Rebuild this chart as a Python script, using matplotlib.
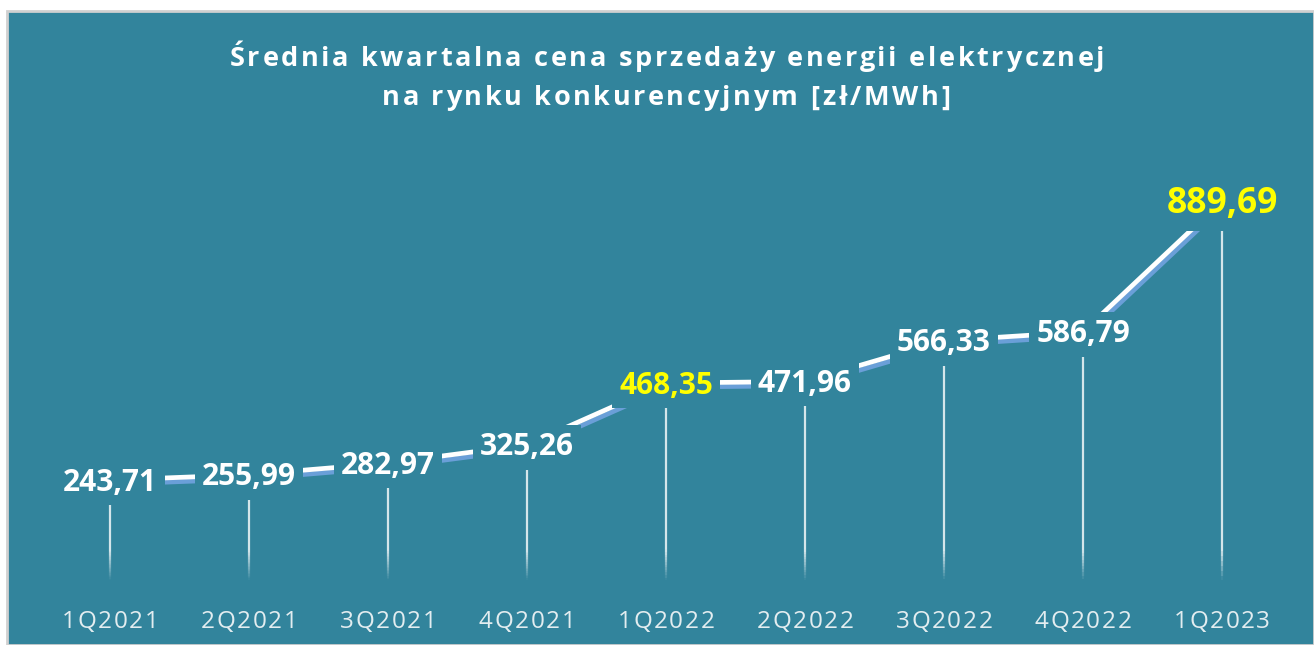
import numpy as np
import matplotlib.pyplot as plt
from matplotlib.patches import Rectangle
from matplotlib.collections import LineCollection
from matplotlib.font_manager import FontProperties
import matplotlib.patheffects as pe

quarters = ['1Q2021', '2Q2021', '3Q2021', '4Q2021', '1Q2022',
            '2Q2022', '3Q2022', '4Q2022', '1Q2023']
prices = [243.71, 255.99, 282.97, 325.26, 468.35, 471.96, 566.33, 586.79, 889.69]
highlight = ['1Q2022', '1Q2023']
title_lines = ['Średnia kwartalna cena sprzedaży energii elektrycznej',
               'na rynku konkurencyjnym [zł/MWh]']

teal = '#32849c'
shadow_blue = '#6a9fd8'
font = 'Open Sans'

fig = plt.figure(figsize=(13.14, 6.45), dpi=100)
fig.patch.set_facecolor('white')
fig.patches.append(Rectangle((7/1314, 0), 1 - 7/1314, 634/645, transform=fig.transFigure,
                             facecolor=teal, edgecolor='#d0d0d0', linewidth=2, zorder=-10))
renderer = fig.canvas.get_renderer()


def spaced_text(xc, y_px, s, size, weight, color, spacing):
    # draw text char by char with extra tracking, centred at xc (pixels)
    prop = FontProperties(family=font, size=size, weight=weight)
    def w(t):
        return renderer.get_text_width_height_descent(t, prop, ismath=False)[0] if t else 0
    total = w(s) + spacing * (len(s) - 1)
    x0 = xc - total / 2
    for i, ch in enumerate(s):
        if ch == ' ':
            continue
        xp = x0 + w(s[:i]) + spacing * i
        fig.text(xp / 1314, 1 - y_px / 645, ch, ha='left', va='baseline',
                 fontproperties=prop, color=color)


ax = fig.add_axes([40.5/1314, 59.7/645, 1251/1314, 431.9/645])
ax.set_facecolor('none')
ax.set_xlim(-0.5, len(quarters) - 0.5)
ax.set_ylim(0, 1000)
for s in ax.spines.values():
    s.set_visible(False)
ax.set_xticks([])
ax.set_yticks([])

x = np.arange(len(quarters))

# drop lines, fading out toward the axis
for xi, v in zip(x, prices):
    ys = np.linspace(0, v, 80)
    segs = [[(xi, ys[k]), (xi, ys[k + 1])] for k in range(len(ys) - 1)]
    mids = (ys[:-1] + ys[1:]) / 2
    alphas = 0.8 * np.clip((mids - 12) / 70, 0, 1)
    cols = [(1, 1, 1, a) for a in alphas]
    ax.add_collection(LineCollection(segs, colors=cols, linewidths=1.6, zorder=1))

ax.plot(x, prices, color='white', linewidth=3.4, solid_capstyle='butt', zorder=2,
        path_effects=[pe.SimpleLineShadow(offset=(1.4, -3.0), shadow_color=shadow_blue,
                                          alpha=1, rho=1), pe.Normal()])

for xi, v, q in zip(x, prices, quarters):
    color = '#ffff00' if q in highlight else 'white'
    size = 25.5 if q == '1Q2023' else 21.5
    off = -8.8 if q == '1Q2023' else -7.6
    ax.annotate(f'{v:.2f}'.replace('.', ','), (xi, v), xytext=(0, off),
                textcoords='offset points', ha='center', va='baseline',
                fontsize=size, fontweight='bold', color=color, family=font,
                bbox=dict(boxstyle='square,pad=0.25', facecolor=teal, edgecolor='none'),
                zorder=5)

x_px = 40.5 + (x + 0.5) * 1251 / 9
for xp, q in zip(x_px, quarters):
    spaced_text(xp, 628, q, 17.5, 'normal', '#e3edf0', 1.6)

spaced_text(667, 66, title_lines[0], 19.5, 'bold', 'white', 2.7)
spaced_text(666, 105, title_lines[1], 19.5, 'bold', 'white', 2.7)

fig.savefig('out.png', dpi=100, facecolor=fig.get_facecolor())
